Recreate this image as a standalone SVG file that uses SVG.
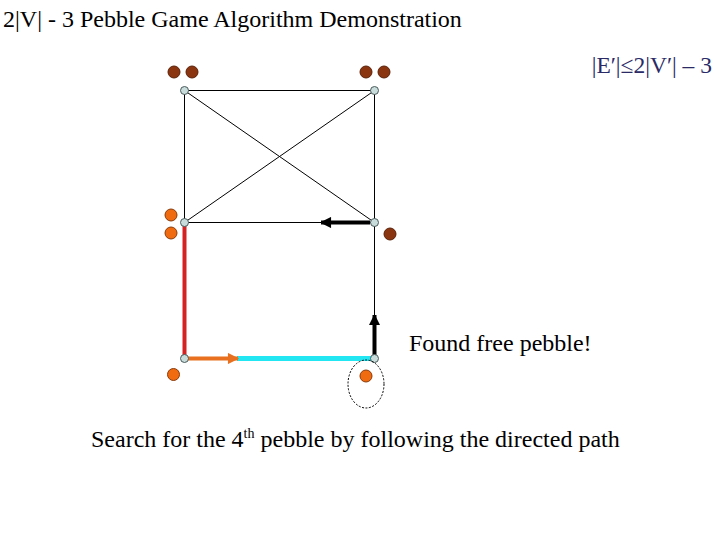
<svg xmlns="http://www.w3.org/2000/svg" width="720" height="540" viewBox="0 0 720 540">
<style>
.t{font-family:"Liberation Serif","Times New Roman",serif;fill:#000}
.e{stroke:#000;stroke-width:1;fill:none}
.v{fill:#c9dcdc;stroke:#4a5a5a;stroke-width:1}
.pb{fill:#8b3510;stroke:#5a2008;stroke-width:1}
.po{fill:#f06a10;stroke:#8a3a08;stroke-width:1}
</style>
<defs>
<marker id="ab" viewBox="0 0 10 10" refX="9" refY="5" markerWidth="3.2" markerHeight="2.8" orient="auto" markerUnits="strokeWidth"><path d="M0,0 L10,5 L0,10 z" fill="#000"/></marker>
<marker id="ao" viewBox="0 0 10 10" refX="9" refY="5" markerWidth="3.2" markerHeight="2.8" orient="auto" markerUnits="strokeWidth"><path d="M0,0 L10,5 L0,10 z" fill="#e8701e"/></marker>
</defs>
<rect width="720" height="540" fill="#fff"/>
<text class="t" x="3" y="27" font-size="24">2|V| - 3 Pebble Game Algorithm Demonstration</text>
<text class="t" x="712" y="73" font-size="23.5" text-anchor="end" style="fill:#2a2a66">|E′|≤2|V′| – 3</text>
<g id="connectors">
<line class="e" x1="184.5" y1="90.5" x2="374.5" y2="90.5"/>
<line class="e" x1="184.5" y1="90.5" x2="184.5" y2="222.5"/>
<line class="e" x1="374.5" y1="90.5" x2="374.5" y2="222.5"/>
<line class="e" x1="184.5" y1="90.5" x2="374.5" y2="222.5"/>
<line class="e" x1="374.5" y1="90.5" x2="184.5" y2="222.5"/>
<line class="e" x1="184.5" y1="222.5" x2="374.5" y2="222.5"/>
<line class="e" x1="374.5" y1="222.5" x2="374.5" y2="358"/>
<line x1="370" y1="222.5" x2="321" y2="222.5" stroke="#000" stroke-width="4" marker-end="url(#ab)"/>
<line x1="184.5" y1="226" x2="184.5" y2="356" stroke="#d42222" stroke-width="4"/>
<line x1="237" y1="358.5" x2="372" y2="358.5" stroke="#22e6f2" stroke-width="5"/>
<line x1="187" y1="358.5" x2="238" y2="358.5" stroke="#e8701e" stroke-width="4" marker-end="url(#ao)"/>
<line x1="374.5" y1="355" x2="374.5" y2="315" stroke="#000" stroke-width="4" marker-end="url(#ab)"/>
</g>
<g id="n-tl"><circle class="v" cx="184.5" cy="90.5" r="4"/><circle class="pb" cx="174" cy="72" r="6"/><circle class="pb" cx="192" cy="72" r="6"/></g>
<g id="n-tr"><circle class="v" cx="374.5" cy="90.5" r="4"/><circle class="pb" cx="366" cy="72" r="6"/><circle class="pb" cx="384" cy="72" r="6"/></g>
<g id="n-ml"><circle class="v" cx="184.5" cy="222.5" r="4"/><circle class="po" cx="171" cy="215" r="6"/><circle class="po" cx="171" cy="233" r="6"/></g>
<g id="n-mr"><circle class="v" cx="374.5" cy="222.5" r="4"/><circle class="pb" cx="390" cy="234" r="6"/></g>
<g id="n-bl"><circle class="v" cx="184.5" cy="358.5" r="4"/><circle class="po" cx="173.5" cy="374.5" r="6"/></g>
<g id="n-br"><circle class="v" cx="374.5" cy="358.5" r="4"/><circle class="po" cx="366" cy="376" r="6"/><ellipse cx="366" cy="384" rx="18" ry="24" fill="none" stroke="#000" stroke-width="1" stroke-dasharray="2,1.5"/></g>
<text class="t" x="409" y="351" font-size="24">Found free pebble!</text>
<text class="t" x="91" y="447" font-size="24">Search for the 4<tspan font-size="14" dy="-9">th</tspan><tspan dy="9"> pebble by following the directed path</tspan></text>
</svg>
